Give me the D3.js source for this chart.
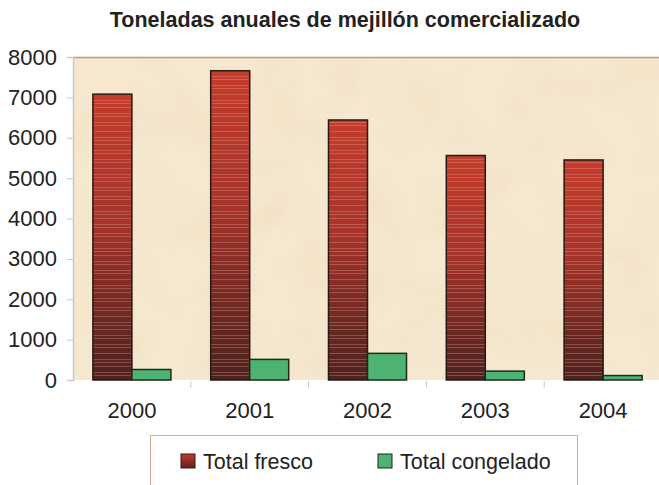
<!DOCTYPE html>
<html>
<head>
<meta charset="utf-8">
<script src="https://cdn.jsdelivr.net/npm/d3@7"></script>
<style>
  body { margin: 0; background: #fff; }
  text { font-family: "Liberation Sans", Arial, sans-serif; fill: #222; }
</style>
</head>
<body>
<svg id="chart" width="659" height="485"></svg>
<script>
let svg = d3.select("#chart");

//! DATA
let years = ["2000", "2001", "2002", "2003", "2004"];
let series = ["Total fresco", "Total congelado"];
let fresco = [7080, 7660, 6440, 5560, 5450];
let congelado = [260, 510, 660, 220, 110];
let yTicks = [0, 1000, 2000, 3000, 4000, 5000, 6000, 7000, 8000];

let rows = years.map(function (y, i) {
    return { year: y, values: [fresco[i], congelado[i]] };
});

//? Scales
let x = d3.scaleBand().domain(years).range([73, 662]);
let xSub = d3.scaleBand().domain(series).range([0, x.bandwidth()]).paddingOuter(0.51);
let y = d3.scaleLinear().domain([0, 8000]).range([380, 57]);

//? Defs: texture, gradient, stripes
let defs = svg.append("defs");

let filt = defs.append("filter").attr("id", "paper")
    .attr("x", 0).attr("y", 0).attr("width", "100%").attr("height", "100%");
filt.append("feTurbulence").attr("type", "fractalNoise")
    .attr("baseFrequency", 0.02).attr("numOctaves", 4).attr("seed", 5).attr("result", "n");
filt.append("feColorMatrix").attr("in", "n").attr("type", "matrix")
    .attr("values", "0 0 0 0 0.88  0 0 0 0 0.74  0 0 0 0 0.54  2.4 0 0 0 -1.05");

let grad = defs.append("linearGradient").attr("id", "redGrad")
    .attr("x1", 0).attr("y1", 0).attr("x2", 0).attr("y2", 1);
grad.append("stop").attr("offset", "0%").attr("stop-color", "#c43c2c");
grad.append("stop").attr("offset", "45%").attr("stop-color", "#a5342a");
grad.append("stop").attr("offset", "80%").attr("stop-color", "#692822");
grad.append("stop").attr("offset", "100%").attr("stop-color", "#4e2220");

let stripes = defs.append("pattern").attr("id", "stripes")
    .attr("patternUnits", "userSpaceOnUse").attr("width", 10).attr("height", 37);
[2, 5, 11, 14, 20, 26, 29, 33].forEach(function (p) {
    stripes.append("rect").attr("x", 0).attr("y", p).attr("width", 10).attr("height", 1)
        .attr("fill", "#f2b0a0").attr("opacity", 0.3);
});

let legGrad = defs.append("linearGradient").attr("id", "legGrad")
    .attr("x1", 0).attr("y1", 0).attr("x2", 0).attr("y2", 1);
legGrad.append("stop").attr("offset", "0%").attr("stop-color", "#c23a2b");
legGrad.append("stop").attr("offset", "100%").attr("stop-color", "#5a2421");

//? Plot background
let bgX = 73, bgY = 57, bgW = 659 - 73, bgH = 380 - 57;
svg.append("rect").attr("x", bgX).attr("y", bgY).attr("width", bgW).attr("height", bgH)
    .attr("fill", "#f5e8cf");
svg.append("rect").attr("x", bgX).attr("y", bgY).attr("width", bgW).attr("height", bgH)
    .attr("filter", "url(#paper)").attr("opacity", 0.6);
svg.append("line").attr("x1", bgX).attr("x2", 659).attr("y1", bgY + 0.5).attr("y2", bgY + 0.5)
    .attr("stroke", "#c8937a").attr("stroke-width", 1.5);

//? Title
svg.append("text").attr("x", 345).attr("y", 27).attr("text-anchor", "middle")
    .style("font-size", "21.5px").style("font-weight", "bold")
    .text("Toneladas anuales de mejillón comercializado");

//? Y axis
let yAxis = svg.append("g").attr("transform", "translate(73,0)")
    .call(d3.axisLeft(y).tickValues(yTicks).tickSize(6).tickPadding(10).tickFormat(d3.format("d")));
yAxis.select(".domain").attr("stroke", "#c8c8c8").attr("stroke-width", 1.5);
yAxis.selectAll(".tick line").attr("stroke", "#c8c8c8");
yAxis.selectAll(".tick text").style("font-size", "22px").attr("fill", "#222")
    .style("font-family", "'Liberation Sans', Arial, sans-serif");

//? X axis
let xAxis = svg.append("g").attr("transform", "translate(0,380)")
    .call(d3.axisBottom(x).tickSize(0).tickPadding(22));
xAxis.select(".domain").remove();
xAxis.selectAll(".tick text").style("font-size", "22px").attr("fill", "#222")
    .style("font-family", "'Liberation Sans', Arial, sans-serif");
svg.append("g").selectAll("line").data(years.slice(1)).enter().append("line")
    .attr("x1", function (d) { return x(d); }).attr("x2", function (d) { return x(d); })
    .attr("y1", 381).attr("y2", 388).attr("stroke", "#c8c8c8");

//? Bars
let groups = svg.append("g").selectAll("g").data(rows).enter().append("g")
    .attr("transform", function (d) { return "translate(" + x(d.year) + ",0)"; });

groups.each(function (d) {
    let g = d3.select(this);
    let hf = y(0) - y(d.values[0]);
    g.append("rect").attr("x", xSub(series[0])).attr("y", y(d.values[0]))
        .attr("width", xSub.bandwidth()).attr("height", hf)
        .attr("fill", "url(#redGrad)");
    g.append("rect").attr("x", xSub(series[0])).attr("y", y(d.values[0]))
        .attr("width", xSub.bandwidth()).attr("height", hf)
        .attr("fill", "url(#stripes)");
    g.append("rect").attr("x", xSub(series[0])).attr("y", y(d.values[0]))
        .attr("width", xSub.bandwidth()).attr("height", hf)
        .attr("fill", "none").attr("stroke", "#2a1814").attr("stroke-width", 1.5);
    g.append("rect").attr("x", xSub(series[1])).attr("y", y(d.values[1]))
        .attr("width", xSub.bandwidth()).attr("height", y(0) - y(d.values[1]))
        .attr("fill", "#4db373").attr("stroke", "#1f2a1c").attr("stroke-width", 1.5);
});

//? Legend
let legend = svg.append("g");
legend.append("rect").attr("x", 150.5).attr("y", 435.5).attr("width", 427).attr("height", 60)
    .attr("fill", "#fff").attr("stroke", "#dca592").attr("stroke-width", 1);
let legItems = [
    { name: series[0], fill: "url(#legGrad)", stroke: "#3a1a16", x: 181 },
    { name: series[1], fill: "#4db373", stroke: "#1f2a1c", x: 378 }
];
legItems.forEach(function (it) {
    legend.append("rect").attr("x", it.x).attr("y", 454).attr("width", 14).attr("height", 14)
        .attr("fill", it.fill).attr("stroke", it.stroke).attr("stroke-width", 1);
    legend.append("text").attr("x", it.x + 22).attr("y", 469)
        .style("font-size", "21.5px").text(it.name);
});
</script>
</body>
</html>
